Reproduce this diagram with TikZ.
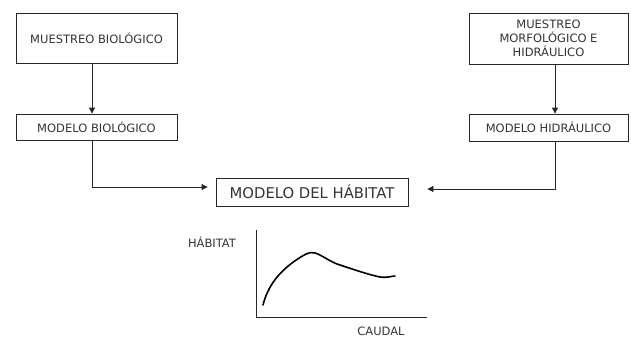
\documentclass[tikz,border=0pt]{standalone}
\usepackage{fontspec}
\setmainfont{DejaVu Sans}
\usetikzlibrary{arrows.meta}
\begin{document}
\begin{tikzpicture}[x=1pt,y=-1pt,
  box/.style={draw=black!85,line width=0.8pt,inner sep=0pt,font=\fontsize{11.5}{14}\selectfont,align=center,text=black!80},
  conn/.style={draw=black!85,line width=0.8pt},
  arr/.style={conn,-{Triangle[length=6pt,width=6pt]}},
  lbl/.style={font=\fontsize{11.5}{14}\selectfont,text=black!80,inner sep=0pt}]
\useasboundingbox (0,0) rectangle (631,337);
\node[box,minimum width=161pt,minimum height=50pt] (mb) at (96.5,38) {MUESTREO BIOLÓGICO};
\node[box,minimum width=161pt,minimum height=26pt] (bio) at (96.5,127) {MODELO BIOLÓGICO};
\node[box,minimum width=159pt,minimum height=51pt] (mm) at (548.5,38.5) {MUESTREO\\MORFOLÓGICO E\\HIDRÁULICO};
\node[box,minimum width=159pt,minimum height=27pt] (hid) at (548.5,127.5) {MODELO HIDRÁULICO};
\node[box,minimum width=192pt,minimum height=28pt,font=\fontsize{14.8}{17}\selectfont] (hab) at (312,192) {MODELO DEL HÁBITAT};
\coordinate (c1) at (92,187);
\coordinate (c2) at (555,189);
\draw[arr] (mb.south -| c1) -- (bio.north -| c1);
\draw[arr] (mm.south -| c2) -- (hid.north -| c2);
\draw[arr] (bio.south -| c1) -- (c1) -- ([xshift=-8pt]hab.west |- c1);
\draw[arr] (hid.south -| c2) -- (c2) -- ([xshift=19pt]hab.east |- c2);
% graph
\coordinate (o) at (256,317);
\coordinate (ytop) at (256,230);
\coordinate (xend) at (427,317);
\draw[conn,line width=0.7pt] (ytop) -- (o) -- (xend);
\draw[line width=1.6pt,line cap=round] (263,305) .. controls (268,285) and (280,272) .. (292,263)
  .. controls (303,255) and (310,251) .. (315,253)
  .. controls (322,255) and (330,262) .. (340,265)
  .. controls (355,270) and (370,275) .. (380,277)
  .. controls (388,278) and (392,276) .. (395,276);
\node[lbl] (ly) at (212,242) {HÁBITAT};
\node[lbl] (lx) at (381,331) {CAUDAL};
\end{tikzpicture}
\end{document}
